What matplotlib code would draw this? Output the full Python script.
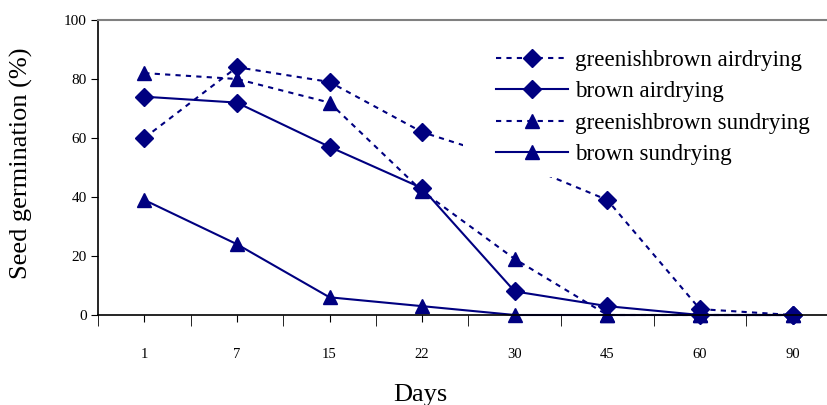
import matplotlib.pyplot as plt
from matplotlib.patches import Rectangle
import numpy as np

days = ['1', '7', '15', '22', '30', '45', '60', '90']
gb_air = [60, 84, 79, 62, 52, 39, 2, 0]
br_air = [74, 72, 57, 43, 8, 3, 0, 0]
gb_sun = [82, 80, 72, 42, 19, 0, 0, 0]
br_sun = [39, 24, 6, 3, 0, 0, 0, 0]

NAVY = '#000080'
plt.rcParams['font.family'] = ['Liberation Serif', 'DejaVu Serif']

fig = plt.figure(figsize=(8.27, 4.05), dpi=100)
ax = fig.add_axes([98 / 827, 1 - 315 / 405, (827 - 98) / 827, 295 / 405])

x = np.arange(len(days))
dot = (0, (2.5, 2.5))
ax.plot(x, gb_air, color=NAVY, lw=1.5, ls=dot, marker='D', ms=9, label='greenishbrown airdrying', clip_on=False)
ax.plot(x, br_air, color=NAVY, lw=1.5, ls='-', marker='D', ms=9, label='brown airdrying', clip_on=False)
ax.plot(x, gb_sun, color=NAVY, lw=1.5, ls=dot, marker='^', ms=10, label='greenishbrown sundrying', clip_on=False)
ax.plot(x, br_sun, color=NAVY, lw=1.5, ls='-', marker='^', ms=10, label='brown sundrying', clip_on=False)

ax.set_yticks(range(0, 101, 20))
ax.set_xticks(x)
ax.set_xticklabels(days)
ax.set_xticks(np.arange(-0.5, len(days) - 0.5, 1), minor=True)
ax.set_xlim(-0.5, -0.5 + (827 - 98) / 92.6)
ax.set_ylim(0, 100)
ax.tick_params(axis='x', which='major', length=5, pad=19, labelsize=10.5, direction='out')
ax.tick_params(axis='x', which='minor', length=8, direction='out')
ax.tick_params(axis='y', length=5, labelsize=11, direction='out', pad=3)

ax.spines['right'].set_visible(False)
ax.spines['top'].set_color('#808080')
ax.spines['top'].set_linewidth(1.5)
ax.spines['left'].set_linewidth(1.2)
ax.spines['bottom'].set_linewidth(1.2)

ax.set_ylabel('Seed germination (%)', fontsize=19)
ax.yaxis.set_label_coords(-65 / 729, 0.513)
fig.text(420 / 827, 1 - 401 / 405, 'Days', fontsize=19, ha='center', va='baseline')

# white legend area hides the lines behind it
ax.add_patch(Rectangle((365 / 729, 138 / 295), 1, 150 / 295, transform=ax.transAxes,
                       facecolor='white', edgecolor='none', zorder=5, clip_on=False))

leg = ax.legend(loc='upper left', bbox_to_anchor=(395 / 729, 1 - 26 / 295), frameon=False,
                fontsize=16.6, handlelength=3.1, handletextpad=0.3, labelspacing=0.45,
                borderpad=0.15, borderaxespad=0)
leg.set_zorder(10)

fig.savefig('out.png', dpi=100)
